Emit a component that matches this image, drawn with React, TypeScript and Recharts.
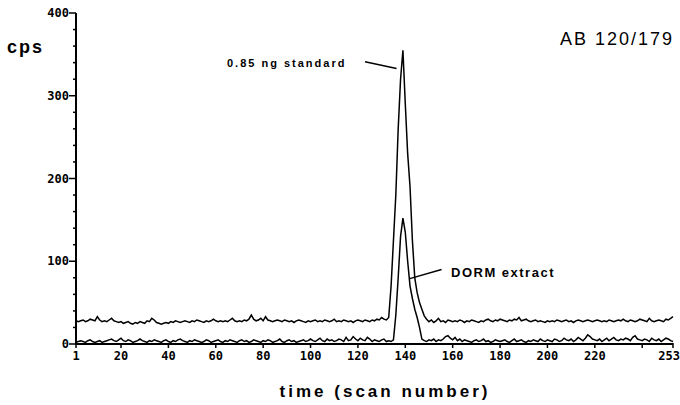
import React from 'react';
import { LineChart, Line, XAxis, YAxis, ReferenceLine } from 'recharts';

// cps per scan, 0.85 ng standard (upper trace)
const standard = [
  28, 27, 28, 29, 27, 28, 30, 29, 28, 33, 29, 27, 28, 27, 29, 31, 28, 27, 26, 27,
  25, 26, 27, 25, 24, 26, 25, 27, 26, 25, 28, 27, 31, 29, 26, 25, 24, 25, 26, 25,
  27, 26, 28, 27, 26, 27, 28, 27, 26, 28, 27, 29, 28, 27, 26, 28, 27, 28, 30, 28,
  27, 28, 27, 28, 27, 29, 31, 28, 27, 28, 27, 29, 28, 30, 35, 30, 28, 29, 31, 28,
  33, 29, 28, 27, 28, 29, 28, 27, 29, 28, 27, 28, 26, 28, 29, 28, 27, 26, 28, 27,
  28, 29, 27, 28, 27, 29, 28, 27, 28, 30, 27, 28, 27, 29, 28, 27, 28, 26, 28, 29,
  28, 27, 29, 28, 27, 29, 28, 30, 29, 32, 30, 29, 32, 70, 125, 180, 260, 320, 355, 290,
  230, 190, 125, 80, 62, 50, 42, 34, 30, 27, 29, 26, 28, 31, 27, 28, 26, 29, 28, 27,
  28, 27, 29, 28, 26, 28, 27, 29, 28, 27, 26, 28, 27, 29, 30, 28, 27, 29, 28, 30,
  29, 28, 27, 29, 28, 30, 29, 32, 28, 29, 30, 28, 27, 28, 29, 27, 28, 27, 26, 28,
  27, 28, 27, 29, 28, 27, 28, 29, 27, 28, 26, 28, 29, 28, 27, 28, 29, 28, 27, 28,
  29, 28, 27, 28, 27, 29, 28, 27, 28, 29, 28, 30, 28, 27, 29, 28, 27, 28, 30, 29,
  28, 27, 31, 28, 27, 28, 29, 28, 27, 30, 29, 31, 33,
];

// cps per scan, DORM extract (lower trace)
const dorm = [
  2, 3, 4, 3, 2, 4, 5, 3, 2, 3, 4, 2, 3, 4, 5, 6, 4, 3, 5, 7,
  4, 3, 5, 4, 2, 3, 4, 6, 4, 3, 2, 4, 3, 5, 4, 3, 2, 4, 5, 3,
  2, 4, 3, 5, 6, 4, 3, 2, 4, 3, 5, 4, 3, 2, 3, 5, 4, 2, 3, 4,
  5, 3, 2, 4, 3, 5, 4, 3, 2, 4, 5, 3, 4, 2, 3, 5, 4, 3, 2, 4,
  3, 5, 4, 2, 3, 4, 6, 3, 2, 4, 5, 3, 4, 2, 3, 4, 5, 3, 4, 6,
  4, 3, 5, 7, 4, 3, 6, 4, 5, 3, 4, 6, 5, 3, 8, 4, 5, 9, 6, 4,
  7, 5, 4, 8, 6, 3, 5, 4, 3, 5, 6, 3, 4, 3, 5, 35, 80, 130, 152, 135,
  100, 70, 55, 42, 32, 20, 6, 4, 3, 5, 4, 6, 3, 5, 4, 6, 9, 10, 7, 5,
  8, 4, 6, 3, 5, 4, 3, 2, 4, 5, 3, 4, 6, 3, 4, 2, 3, 5, 4, 3,
  4, 5, 3, 2, 4, 6, 3, 4, 5, 3, 2, 4, 3, 5, 4, 3, 6, 4, 3, 5,
  4, 3, 6, 5, 3, 4, 7, 5, 4, 6, 3, 5, 8, 6, 4, 7, 11, 9, 6, 5,
  4, 6, 3, 5, 7, 4, 6, 8, 5, 4, 6, 5, 7, 6, 4, 8, 10, 6, 5, 4,
  6, 5, 3, 7, 5, 4, 6, 3, 5, 7, 6, 4, 3,
];

const scans = standard.map((_, i) => i + 1);

const xTicks = [1, 20, 40, 60, 80, 100, 120, 140, 160, 180, 200, 220, 240, 253];
const xLabels = [1, 20, 40, 60, 80, 100, 120, 140, 160, 180, 200, 220, 253];
const yTicks = [0, 20, 40, 60, 80, 100, 120, 140, 160, 180, 200, 220, 240, 260, 280, 300, 320, 340, 360, 380, 400];
const yLabels = [0, 100, 200, 300, 400];

const data = scans.map((scan, i) => ({ scan, standard: standard[i], dorm: dorm[i] }));

const tickFont = {
  fontFamily: '"DejaVu Sans Mono", monospace',
  fontWeight: 700,
  fontSize: 12,
};
const labelFont = { fontFamily: '"Liberation Sans", Arial, sans-serif', fill: '#000' };

const YTick = (props: any) => {
  const { x, y, payload } = props;
  const major = yLabels.includes(payload.value);
  return (
    <g>
      <line x1={x - (major ? 7 : 3)} x2={x} y1={y} y2={y} stroke="#000" strokeWidth={1.5} />
      {major && (
        <text x={x - 7} y={y + 4} textAnchor="end" fill="#000" style={tickFont}>
          {payload.value}
        </text>
      )}
    </g>
  );
};

const XTick = (props: any) => {
  const { x, y, payload } = props;
  const last = payload.value === 253;
  return (
    <g>
      <line x1={x} x2={x} y1={y - 1} y2={y + 4} stroke="#000" strokeWidth={1.5} />
      {xLabels.includes(payload.value) && (
        <text x={last ? 680 : x} y={y + 16} textAnchor={last ? 'end' : 'middle'} fill="#000" style={tickFont}>
          {payload.value}
        </text>
      )}
    </g>
  );
};

export default function App() {
  return (
    <div style={{ position: 'absolute', left: 0, top: 0, width: 680, height: 405, background: '#fff' }}>
      <LineChart width={680} height={405} data={data} margin={{ top: 13, right: 7, bottom: 0, left: 0 }}>
        <XAxis
          dataKey="scan"
          type="number"
          domain={[1, 253]}
          ticks={xTicks}
          interval={0}
          height={61}
          tickSize={0}
          tickMargin={0}
          tickLine={false}
          axisLine={{ stroke: '#000', strokeWidth: 2 }}
          tick={<XTick />}
        />
        <YAxis
          type="number"
          domain={[0, 400]}
          ticks={yTicks}
          interval={0}
          width={76}
          tickSize={0}
          tickMargin={0}
          tickLine={false}
          axisLine={{ stroke: '#000', strokeWidth: 2 }}
          tick={<YTick />}
        />
        <Line type="linear" dataKey="standard" stroke="#000" strokeWidth={1.5} dot={false} isAnimationActive={false} />
        <Line type="linear" dataKey="dorm" stroke="#000" strokeWidth={1.5} dot={false} isAnimationActive={false} />
        <ReferenceLine
          segment={[{ x: 123, y: 341 }, { x: 136.3, y: 333 }]}
          stroke="#000"
          strokeWidth={1.5}
          ifOverflow="visible"
        />
        <ReferenceLine
          segment={[{ x: 155.3, y: 90 }, { x: 141.9, y: 79 }]}
          stroke="#000"
          strokeWidth={1.5}
          ifOverflow="visible"
        />
      </LineChart>
      <svg width={680} height={405} style={{ position: 'absolute', left: 0, top: 0, pointerEvents: 'none' }}>
        <text x={7} y={53} fontSize={18} fontWeight={700} letterSpacing={2} style={labelFont}>
          cps
        </text>
        <text x={560} y={45} fontSize={18} letterSpacing={2} style={labelFont}>
          AB 120/179
        </text>
        <text x={227} y={67} fontSize={11} fontWeight={700} letterSpacing={2} style={labelFont}>
          0.85 ng standard
        </text>
        <text x={451} y={277} fontSize={13} fontWeight={700} letterSpacing={1.5} style={labelFont}>
          DORM extract
        </text>
        <text x={385} y={397} fontSize={17} fontWeight={700} letterSpacing={3} textAnchor="middle" style={labelFont}>
          time (scan number)
        </text>
      </svg>
    </div>
  );
}
